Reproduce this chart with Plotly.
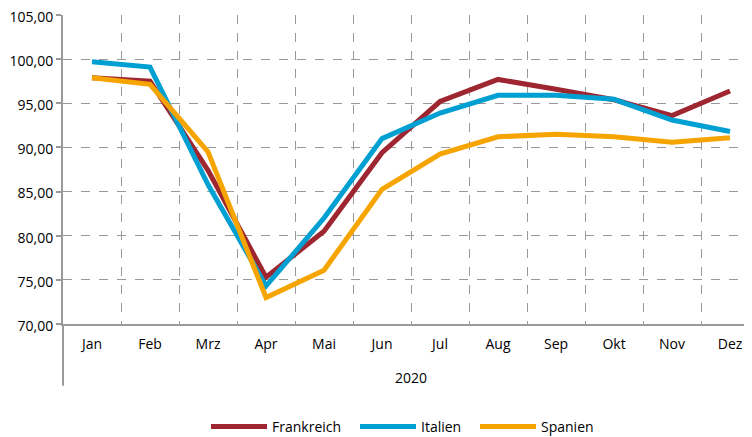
import plotly.graph_objects as go

months = ["Jan", "Feb", "Mrz", "Apr", "Mai", "Jun", "Jul", "Aug", "Sep", "Okt", "Nov", "Dez"]
frankreich = [97.9, 97.5, 87.4, 75.3, 80.5, 89.4, 95.2, 97.7, 96.6, 95.4, 93.6, 96.4]
italien = [99.7, 99.1, 85.8, 74.3, 82.0, 91.0, 93.9, 95.9, 95.9, 95.45, 93.1, 91.8]
spanien = [97.9, 97.15, 89.5, 73.0, 76.1, 85.25, 89.25, 91.2, 91.5, 91.2, 90.6, 91.1]
year_label = "2020"
y_ticks = [70, 75, 80, 85, 90, 95, 100, 105]

FONT = "Open Sans, sans-serif"
fig = go.Figure()
series = [("Frankreich", frankreich, "#9e2631", "legend", 206),
          ("Italien", italien, "#00a0d2", "legend2", 355),
          ("Spanien", spanien, "#f6a500", "legend3", 475)]
legend_defs = {}
for name, vals, col, lg, lx in series:
    fig.add_trace(go.Scatter(x=months, y=vals, name=name, mode="lines", legend=lg,
                             line=dict(color=col, width=5)))
    legend_defs[lg] = dict(orientation="h", x=(lx - 63) / 689, xanchor="left",
                           y=-0.333, yanchor="middle", font=dict(size=14),
                           itemwidth=56, bgcolor="rgba(0,0,0,0)")

fig.update_layout(
    width=744, height=429,
    margin=dict(l=55, r=0, t=7, b=113, autoexpand=False),
    plot_bgcolor="white", paper_bgcolor="white",
    separators=",.",
    font=dict(family=FONT, size=14, color="#000000"),
    showlegend=True,
    xaxis=dict(type="category", range=[-0.5, 11.379], tickson="boundaries",
               showgrid=True, gridcolor="#9a9a9a", griddash="dash", gridwidth=1.3,
               showline=True, linecolor="#9a9a9a", linewidth=2, automargin=False,
               ticks="", ticklabelstandoff=6, tickfont=dict(size=14)),
    yaxis=dict(range=[70, 105], tickvals=y_ticks, tickformat=".2f", automargin=False,
               ticklabeloverflow="allow", ticklabelshift=2,
               showgrid=True, gridcolor="#9a9a9a", griddash="dash", gridwidth=1.3,
               showline=True, linecolor="#9a9a9a", linewidth=2,
               ticks="outside", ticklen=5, tickcolor="#9a9a9a", tickwidth=1.5,
               tickfont=dict(size=14), zeroline=False),
    **legend_defs,
)
fig.add_shape(type="line", xref="paper", yref="paper", x0=0, x1=0, y0=0, y1=-0.2,
              line=dict(color="#9a9a9a", width=2))
fig.add_annotation(text=year_label, xref="paper", yref="paper", x=(411 - 63) / 689,
                   y=-0.172, yanchor="middle", showarrow=False, font=dict(size=14))
fig.write_html("out.html")
